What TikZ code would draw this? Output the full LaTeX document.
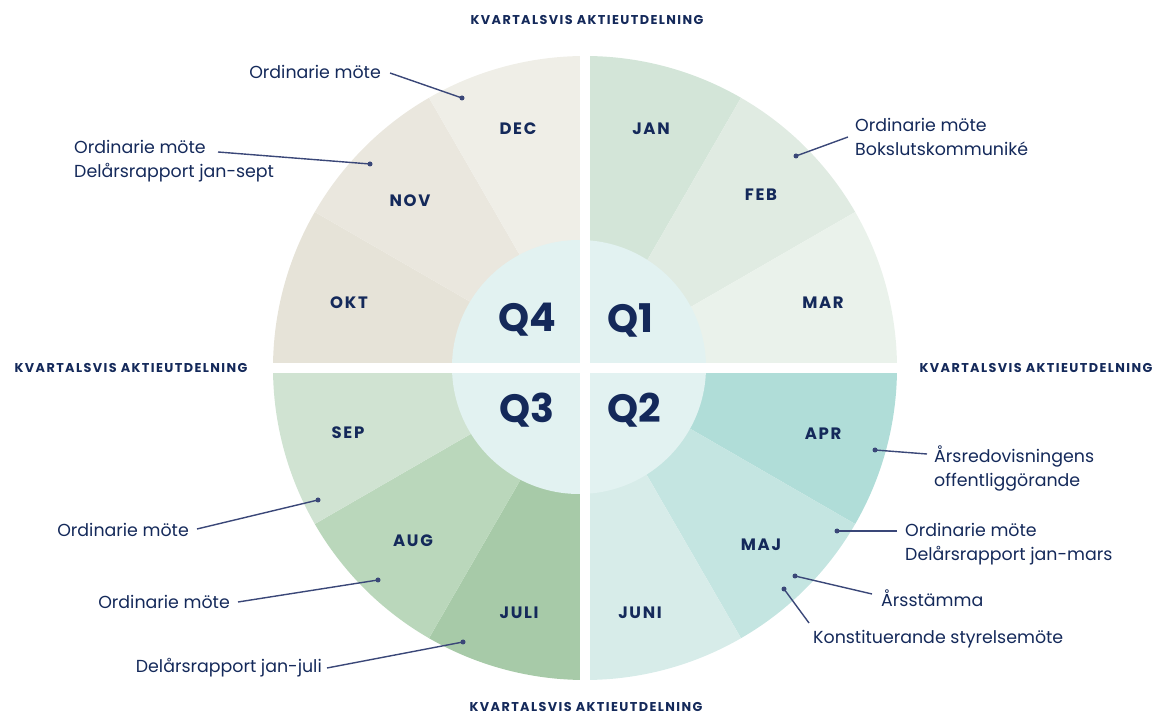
\documentclass[tikz,border=0pt]{standalone}
\usepackage{fontspec}
\setmainfont{Poppins}
\begin{document}
\begin{tikzpicture}[x=1pt,y=1pt]
\definecolor{navy}{HTML}{14295A}
\definecolor{linec}{HTML}{3A4778}
\definecolor{cjan}{HTML}{D3E5D8}
\definecolor{cfeb}{HTML}{E0EBE2}
\definecolor{cmar}{HTML}{EAF2EB}
\definecolor{capr}{HTML}{B0DDD8}
\definecolor{cmaj}{HTML}{C4E5E1}
\definecolor{cjun}{HTML}{D7ECE9}
\definecolor{cjul}{HTML}{A7CAA8}
\definecolor{caug}{HTML}{BAD7BB}
\definecolor{csep}{HTML}{D0E3D2}
\definecolor{cokt}{HTML}{E6E3D8}
\definecolor{cnov}{HTML}{EAE7DE}
\definecolor{cdec}{HTML}{EFEEE7}
\definecolor{cin}{HTML}{E2F2F1}
\tikzset{
 month/.style={font=\fontsize{16.5}{16.5}\selectfont\bfseries\addfontfeature{LetterSpace=10}, text=navy},
 qlab/.style={font=\fontsize{39.5}{40}\selectfont\bfseries, text=navy},
 kv/.style={font=\fontsize{12.8}{13}\selectfont\bfseries\addfontfeature{LetterSpace=11}, text=navy, inner sep=1pt},
 note/.style={font=\fontsize{17.4}{24}\selectfont, text=navy, align=left, inner sep=0pt},
 conn/.style={draw=linec, line width=1.4pt},
 dot/.style={circle, fill=linec, inner sep=0pt, minimum size=5pt},
}
\useasboundingbox (0,0) rectangle (1157,715);
\coordinate (C) at (585,347);
\foreach \a/\b/\c in {60/90/cjan,30/60/cfeb,0/30/cmar,-30/0/capr,-60/-30/cmaj,-90/-60/cjun,-120/-90/cjul,-150/-120/caug,-180/-150/csep,150/180/cokt,120/150/cnov,90/120/cdec}
  \fill[fill=\c] (C) -- ++(\a:312) arc[start angle=\a, end angle=\b, radius=312] -- cycle;
\fill[cin] (579,348) circle[radius=127];
\fill[white] (580,30) rectangle (590,690);
\fill[white] (260,342) rectangle (910,352);
% months
\node[month] (jan) at (651,586) {JAN};
\node[month] (feb) at (761,520) {FEB};
\node[month] (mar) at (823,412) {MAR};
\node[month] (apr) at (823,281) {APR};
\node[month] (maj) at (761,170) {MAJ};
\node[month] (jun) at (640,102) {JUNI};
\node[month] (jul) at (519,102) {JULI};
\node[month] (aug) at (413,174) {AUG};
\node[month] (sep) at (348,282) {SEP};
\node[month] (okt) at (349,412) {OKT};
\node[month] (nov) at (410,514) {NOV};
\node[month] (dec) at (518,586) {DEC};
% quarters
\node[qlab] (q4) at (527,395) {Q4};
\node[qlab] (q1) at (630,395) {Q1};
\node[qlab] (q3) at (527,305) {Q3};
\node[qlab] (q2) at (634,305) {Q2};
% kvartalsvis
\node[kv] (kt) at (587,695) {KVARTALSVIS AKTIEUTDELNING};
\node[kv] (kl) at (131,347) {KVARTALSVIS AKTIEUTDELNING};
\node[kv] (kr) at (1036,347) {KVARTALSVIS AKTIEUTDELNING};
\node[kv] (kb) at (586,8.5) {KVARTALSVIS AKTIEUTDELNING};
% notes
\node[note, anchor=east] (t1) at (381,643) {Ordinarie möte};
\node[note, anchor=west] (t2) at (74,554) {Ordinarie möte\\Delårsrapport jan-sept};
\node[note, anchor=west] (t3) at (855,578) {Ordinarie möte\\Bokslutskommuniké};
\node[note, anchor=west] (t4) at (934,247) {Årsredovisningens\\offentliggörande};
\node[note, anchor=west] (t5) at (905,171) {Ordinarie möte\\Delårsrapport jan-mars};
\node[note, anchor=west] (t6) at (881,117) {Årsstämma};
\node[note, anchor=west] (t7) at (813,76) {Konstituerande styrelsemöte};
\node[note, anchor=east] (t8) at (189,185) {Ordinarie möte};
\node[note, anchor=east] (t9) at (230,113) {Ordinarie möte};
\node[note, anchor=east] (t10) at (322,47) {Delårsrapport jan-juli};
% connectors
\coordinate (s1) at (390,642); \coordinate (d1) at (462,617);
\coordinate (s2) at (218,563); \coordinate (d2) at (370,551);
\coordinate (s3) at (848,578); \coordinate (d3) at (796,559);
\coordinate (s4) at (927,261); \coordinate (d4) at (875,265);
\coordinate (s5) at (897,184); \coordinate (d5) at (837,184);
\coordinate (s6) at (872,121); \coordinate (d6) at (795,139);
\coordinate (s7) at (809,92);  \coordinate (d7) at (784,126);
\coordinate (s8) at (197,186); \coordinate (d8) at (318,215);
\coordinate (s9) at (238,113); \coordinate (d9) at (378,135);
\coordinate (s10) at (327,47); \coordinate (d10) at (463,73);
\foreach \i in {1,...,10} {
  \draw[conn] (s\i) -- (d\i);
  \node[dot] (dd\i) at (d\i) {};
}
\end{tikzpicture}
\end{document}
